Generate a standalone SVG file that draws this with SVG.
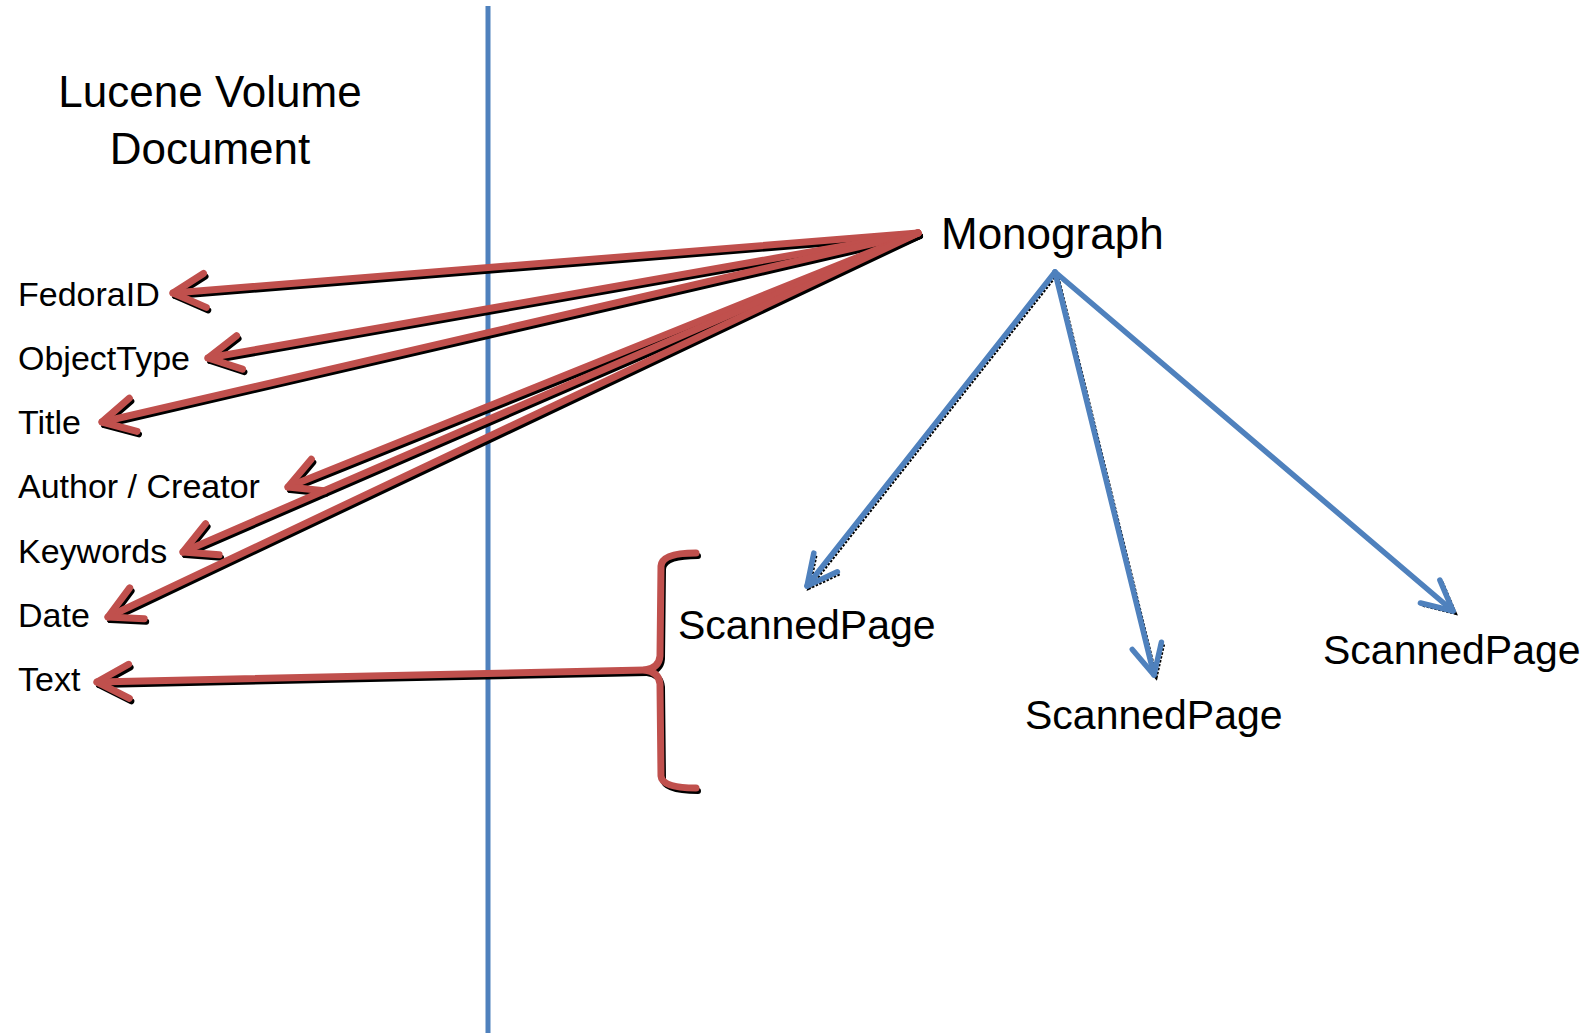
<svg xmlns="http://www.w3.org/2000/svg" width="1591" height="1035" viewBox="0 0 1591 1035">
<style>
text{font-family:"Liberation Sans",Arial,sans-serif;fill:#000}
.lbl{font-size:34px}
.big{font-size:44px}
.pg{font-size:41px}
.red{fill:none;stroke:#C0504D;stroke-width:7;stroke-linecap:round;stroke-linejoin:round}
.redsh{fill:none;stroke:#000;stroke-width:6;stroke-linecap:round;stroke-linejoin:round}
.blue{fill:none;stroke:#4F81BD;stroke-width:5.5;stroke-linecap:round;stroke-linejoin:round}
.bluesh{fill:none;stroke:#000;stroke-width:3.5;stroke-dasharray:2.5 1.5;stroke-linejoin:round}
</style>
<defs>
<marker id="ar" markerUnits="userSpaceOnUse" viewBox="-45 -30 60 60" markerWidth="60" markerHeight="60" refX="0" refY="0" orient="auto" overflow="visible">
<path d="M-32 -17 L0 0 L-32 17" fill="none" stroke="#C0504D" stroke-width="7" stroke-linecap="round" stroke-linejoin="round"/>
</marker>
<marker id="arsh" markerUnits="userSpaceOnUse" viewBox="-45 -30 60 60" markerWidth="60" markerHeight="60" refX="0" refY="0" orient="auto" overflow="visible">
<path d="M-32 -17 L0 0 L-32 17" fill="none" stroke="#000" stroke-width="6" stroke-linecap="round" stroke-linejoin="round"/>
</marker>
<marker id="ab" markerUnits="userSpaceOnUse" viewBox="-45 -30 60 60" markerWidth="60" markerHeight="60" refX="0" refY="0" orient="auto" overflow="visible">
<path d="M-30 -15 L0 0 L-30 15" fill="none" stroke="#4F81BD" stroke-width="5.5" stroke-linecap="round" stroke-linejoin="round"/>
</marker>
<marker id="absh" markerUnits="userSpaceOnUse" viewBox="-45 -30 60 60" markerWidth="60" markerHeight="60" refX="0" refY="0" orient="auto" overflow="visible">
<path d="M-30 -15 L0 0 L-30 15" fill="none" stroke="#000" stroke-width="3.5" stroke-dasharray="2.5 1.5"/>
</marker>
</defs>
<rect width="1591" height="1035" fill="#fff"/>

<g id="divider">
<line x1="488" y1="6" x2="488" y2="1033" stroke="#4F81BD" stroke-width="5"/>
</g>

<g id="connectors">
<g id="shadows" transform="translate(2,3)">
<path class="redsh" marker-end="url(#arsh)" d="M918 233 L173 293"/>
<path class="redsh" marker-end="url(#arsh)" d="M918 233 L208 358"/>
<path class="redsh" marker-end="url(#arsh)" d="M918 233 L102 422"/>
<path class="redsh" marker-end="url(#arsh)" d="M918 233 L288 487"/>
<path class="redsh" marker-end="url(#arsh)" d="M918 233 L183 552"/>
<path class="redsh" marker-end="url(#arsh)" d="M918 233 L108 617"/>
<path class="redsh" marker-end="url(#arsh)" d="M645 670 L97 682"/>
<path class="redsh" d="M696 553 Q662 553 661 566 L660 656 Q659 668 645 670 Q659 672 660 684 L661 776 Q662 788 696 788"/>
</g>
<g id="blueshadows" transform="translate(2,2)">
<path class="bluesh" marker-end="url(#absh)" d="M1055 272 L807 586"/>
<path class="bluesh" marker-end="url(#absh)" d="M1055 272 L1154 675"/>
<path class="bluesh" marker-end="url(#absh)" d="M1055 272 L1453 611"/>
</g>
<path class="red" marker-end="url(#ar)" d="M918 233 L173 293"/>
<path class="red" marker-end="url(#ar)" d="M918 233 L208 358"/>
<path class="red" marker-end="url(#ar)" d="M918 233 L102 422"/>
<path class="red" marker-end="url(#ar)" d="M918 233 L288 487"/>
<path class="red" marker-end="url(#ar)" d="M918 233 L183 552"/>
<path class="red" marker-end="url(#ar)" d="M918 233 L108 617"/>
<path class="red" marker-end="url(#ar)" d="M645 670 L97 682"/>
<path class="blue" marker-end="url(#ab)" d="M1055 272 L807 586"/>
<path class="blue" marker-end="url(#ab)" d="M1055 272 L1154 675"/>
<path class="blue" marker-end="url(#ab)" d="M1055 272 L1453 611"/>
</g>

<g id="bracket">
<path class="red" d="M696 553 Q662 553 661 566 L660 656 Q659 668 645 670 Q659 672 660 684 L661 776 Q662 788 696 788"/>
</g>

<g id="title">
<text class="big" x="210" y="107" text-anchor="middle">Lucene Volume</text>
<text class="big" x="210" y="164" text-anchor="middle">Document</text>
</g>
<g id="fedoraid"><text class="lbl" x="18" y="306">FedoraID</text></g>
<g id="objecttype"><text class="lbl" x="18" y="370">ObjectType</text></g>
<g id="title-field"><text class="lbl" x="18" y="434">Title</text></g>
<g id="author"><text class="lbl" x="18" y="498">Author / Creator</text></g>
<g id="keywords"><text class="lbl" x="18" y="563">Keywords</text></g>
<g id="date"><text class="lbl" x="18" y="627">Date</text></g>
<g id="text-field"><text class="lbl" x="18" y="691">Text</text></g>
<g id="monograph"><text class="big" x="941" y="249">Monograph</text></g>
<g id="page1"><text class="pg" x="678" y="639">ScannedPage</text></g>
<g id="page2"><text class="pg" x="1025" y="729">ScannedPage</text></g>
<g id="page3"><text class="pg" x="1323" y="664">ScannedPage</text></g>
</svg>
